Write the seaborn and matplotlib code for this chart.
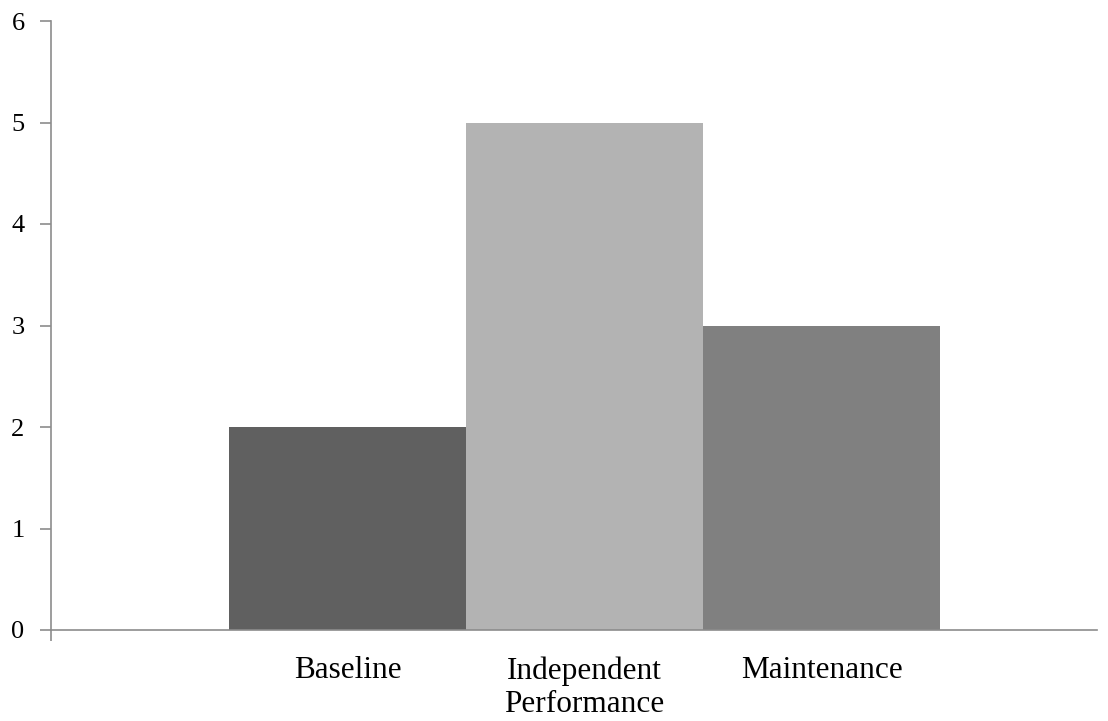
import matplotlib.pyplot as plt
import seaborn as sns
import pandas as pd

categories = ["Baseline", "Independent\nPerformance", "Maintenance"]
values = [2, 5, 3]
colors = ["#606060", "#b3b3b3", "#808080"]
y_ticks = [0, 1, 2, 3, 4, 5, 6]

sns.set_style("white")
plt.rcParams["font.family"] = ["Liberation Serif", "DejaVu Serif"]

df = pd.DataFrame({"phase": categories, "score": values})

fig = plt.figure(figsize=(11.08, 7.21), dpi=100)
ax = fig.add_axes([51 / 1108, (721 - 630) / 721, 1046 / 1108, 609 / 721])

sns.barplot(data=df, x="phase", y="score", hue="phase", order=categories,
            palette=colors, width=1.0, dodge=False, legend=False,
            saturation=1, linewidth=0, ax=ax)

ax.set_xlim(-1.251, 3.162)
ax.set_ylim(0, 6)
ax.set_yticks(y_ticks)
ax.set_xlabel("")
ax.set_ylabel("")

for s in ["top", "right"]:
    ax.spines[s].set_visible(False)
for s in ["left", "bottom"]:
    ax.spines[s].set_color("#8c8c8c")
    ax.spines[s].set_linewidth(1.2)

ax.tick_params(axis="y", direction="out", length=8, width=1.2, color="#8c8c8c",
               labelsize=19, pad=11, left=True, labelcolor="black")
ax.tick_params(axis="x", which="major", length=0, labelsize=22.5, pad=19,
               labelcolor="black")
ax.set_xticks([-1.251], minor=True)
ax.tick_params(axis="x", which="minor", direction="out", length=8, width=1.2,
               color="#8c8c8c", bottom=True)
for lbl in ax.get_xticklabels():
    lbl.set_linespacing(1.2)

fig.savefig("out.png", dpi=100)
